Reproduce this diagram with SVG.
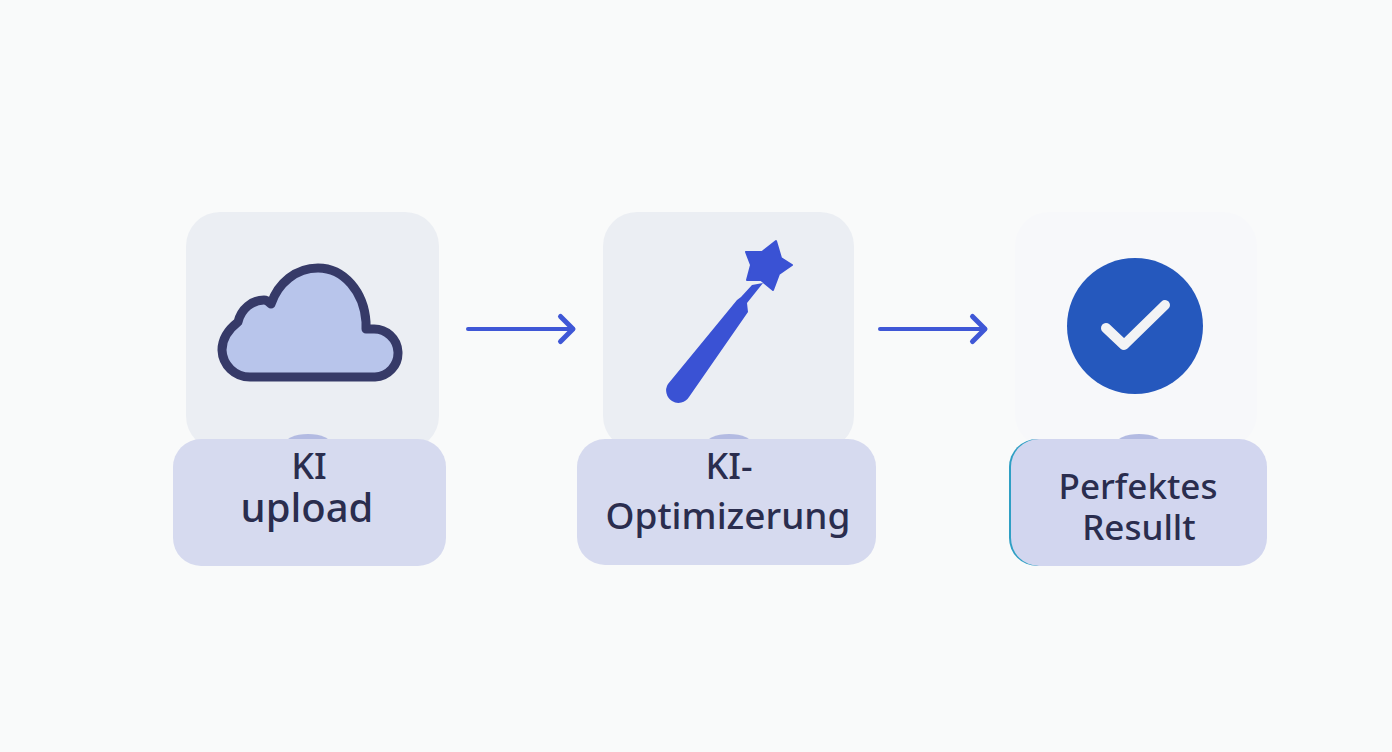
<svg xmlns="http://www.w3.org/2000/svg" width="1392" height="752" viewBox="0 0 1392 752">
<defs>
<marker id="arr" markerUnits="userSpaceOnUse" markerWidth="24" markerHeight="36" refX="20" refY="18" orient="auto" viewBox="0 0 24 36"><path d="M7.500 5.500 L20 18 L7.500 30.500" fill="none" stroke="#3f57d6" stroke-width="5" stroke-linecap="round" stroke-linejoin="round"/></marker>
</defs>
<style>
.lab{fill:#d6daef}
.tab{fill:#b3bbe2}
.t{font-family:"Noto Sans","Open Sans",sans-serif;font-weight:500;fill:#2a2d4e;text-anchor:middle}
.conn{stroke:#3f57d6;stroke-width:4;stroke-linecap:round;fill:none;marker-end:url(#arr)}
</style>
<rect width="1392" height="752" fill="#f9fafa"/>
<g id="node-upload">
<rect x="186" y="212" width="253" height="238" rx="34" fill="#ebeef3"/>
<ellipse cx="308" cy="445" rx="24" ry="11" class="tab"/>
<rect x="173" y="439" width="273" height="127" rx="28" class="lab"/>
<path d="M271 304 C278 283 296 268 318 268 C344 268 364 292 366 322 L366 329 L373 329 A24 24 0 0 1 375 377 L250 377 A28 28 0 0 1 222 350 C222 338 229 329 238 322 C241 309 252 300 264 300 C267 300 269 302 271 304 Z" fill="#b8c5eb" stroke="#363a68" stroke-width="9" stroke-linejoin="round"/>
<text class="t" x="309" y="479" font-size="36">KI</text>
<text class="t" x="307" y="522" font-size="40">upload</text>
</g>
<g id="node-optimize">
<rect x="603" y="212" width="251" height="238" rx="34" fill="#ebeef3"/>
<ellipse cx="729" cy="445" rx="24" ry="11" class="tab"/>
<rect x="577" y="439" width="299" height="126" rx="28" class="lab"/>
<path d="M776 241 L781 258 L792 265 L779 274 L773 290 L761 280 L747 280 L751 265 L746 252 L762 252 Z" fill="#3a52d4" stroke="#3a52d4" stroke-width="2" stroke-linejoin="round"/>
<path d="M763 283 L752 285 L741 297 L737 300 L668 384 A12 12 0 0 0 689 397 L748 312 L747 303 Z" fill="#3a52d4"/>
<text class="t" x="729" y="479" font-size="36">KI-</text>
<text class="t" x="728" y="529" font-size="37">Optimizerung</text>
</g>
<g id="node-result">
<rect x="1015" y="212" width="242" height="236" rx="34" fill="#f7f8fa"/>
<ellipse cx="1139" cy="445" rx="24" ry="11" class="tab"/>
<rect x="1009" y="439" width="100" height="127" rx="28" fill="#2f9fc4"/>
<rect x="1011" y="439" width="256" height="127" rx="28" fill="#d2d6ef"/>
<circle cx="1135" cy="326" r="68" fill="#2558bd"/>
<path d="M1106 328 L1124 345 L1165 305" fill="none" stroke="#f2f3f5" stroke-width="10" stroke-linecap="round" stroke-linejoin="round"/>
<text class="t" x="1138" y="499" font-size="35">Perfektes</text>
<text class="t" x="1139" y="540" font-size="35">Resullt</text>
</g>
<g id="connectors">
<line class="conn" x1="468" y1="329" x2="573" y2="329"/>
<line class="conn" x1="880" y1="329" x2="985" y2="329"/>
</g>
</svg>
